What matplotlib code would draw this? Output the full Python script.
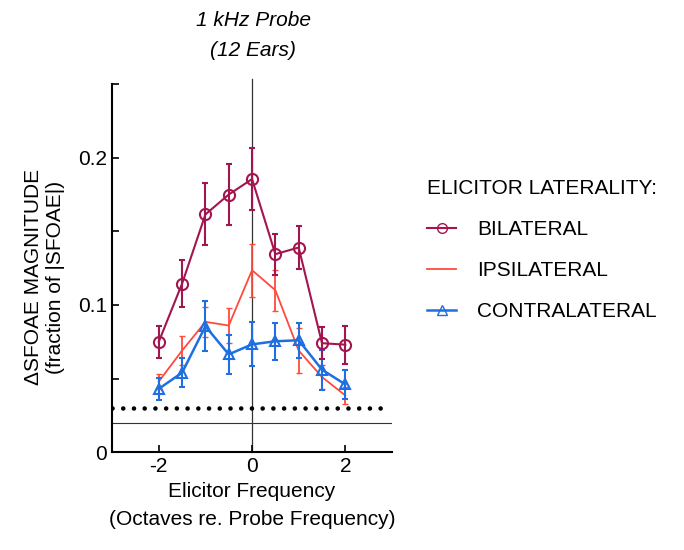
import matplotlib
matplotlib.use('Agg')
import matplotlib.pyplot as plt
from matplotlib.lines import Line2D

plt.rcParams['font.family'] = ['Liberation Sans', 'DejaVu Sans']

# elicitor frequency (octaves re. probe frequency)
freq = [-2, -1.5, -1, -0.5, 0, 0.5, 1, 1.5, 2]

bilateral = [0.075, 0.1145, 0.1615, 0.175, 0.1855, 0.1345, 0.139, 0.074, 0.073]
bilateral_err = [0.011, 0.016, 0.021, 0.021, 0.021, 0.014, 0.0145, 0.011, 0.013]

ipsilateral = [0.048, 0.069, 0.0885, 0.086, 0.1236, 0.110, 0.069, 0.051, 0.0385]
ipsilateral_err = [0.005, 0.010, 0.010, 0.012, 0.018, 0.014, 0.015, 0.008, 0.006]

contralateral = [0.043, 0.054, 0.0855, 0.0664, 0.0732, 0.0753, 0.076, 0.056, 0.046]
contralateral_err = [0.0075, 0.010, 0.017, 0.013, 0.015, 0.0125, 0.012, 0.0135, 0.0098]

noise_floor = 0.030
baseline = 0.020

c_bi = '#a3154e'
c_ip = '#ff4a3d'
c_co = '#1f6fe0'

fig = plt.figure(figsize=(6.84, 5.5), dpi=100)
ax = fig.add_axes([0.164, 0.178, 0.409, 0.669])

ax.axvline(0, ymin=0, ymax=1.015, color='#333333', lw=0.9, clip_on=False, zorder=1)
ax.axhline(baseline, color='#333333', lw=0.8, zorder=1)
ax.axhline(noise_floor, xmax=0.985, color='black', lw=3.3, linestyle=(0, (0.01, 2.33)),
           dash_capstyle='round', zorder=1)

ax.errorbar(freq, ipsilateral, yerr=ipsilateral_err, color=c_ip, lw=1.3,
            elinewidth=1.3, capsize=2, zorder=2)
ax.errorbar(freq, contralateral, yerr=contralateral_err, color=c_co, lw=1.8,
            marker='^', ms=7, mfc='none', mew=1.5, elinewidth=1.5, capsize=2, zorder=3)
ax.errorbar(freq, bilateral, yerr=bilateral_err, color=c_bi, lw=1.5,
            marker='o', ms=8, mfc='none', mew=1.5, elinewidth=1.5, capsize=2, zorder=4)

ax.set_xlim(-3, 3)
ax.set_ylim(0, 0.25)
ax.set_xticks([-2, 0, 2])
ax.set_xticklabels(['-2', '0', '2'])
ax.set_yticks([0, 0.1, 0.2])
ax.set_yticklabels(['0', '0.1', '0.2'])
ax.set_yticks([0.05, 0.15, 0.25], minor=True)
ax.tick_params(direction='in', labelsize=15, length=5, width=1.2)
ax.tick_params(which='minor', direction='in', length=5, width=1.2)
for s in ['top', 'right']:
    ax.spines[s].set_visible(False)
for s in ['left', 'bottom']:
    ax.spines[s].set_linewidth(1.5)

ax.set_xlabel('Elicitor Frequency\n(Octaves re. Probe Frequency)', fontsize=15,
              labelpad=4, linespacing=1.6)
ax.set_ylabel('\u0394SFOAE MAGNITUDE\n(fraction of |SFOAE|)', fontsize=15,
              linespacing=1.2)
ax.yaxis.set_label_coords(-0.17, 0.475)

fig.text(0.37, 0.963, '1 kHz Probe', style='italic', fontsize=15, ha='center', va='center')
fig.text(0.37, 0.908, '(12 Ears)', style='italic', fontsize=15, ha='center', va='center')

handles = [
    Line2D([], [], color=c_bi, marker='o', mfc='none', ms=7, lw=1.5),
    Line2D([], [], color=c_ip, lw=1.3),
    Line2D([], [], color=c_co, marker='^', mfc='none', ms=7, lw=1.8),
]
leg = fig.legend(handles, ['BILATERAL', 'IPSILATERAL', 'CONTRALATERAL'],
                 title='ELICITOR LATERALITY:', loc='upper left',
                 bbox_to_anchor=(0.6, 0.705), frameon=False, fontsize=15,
                 title_fontsize=15, handlelength=1.4, handletextpad=1.0,
                 labelspacing=1.05, borderpad=0.3)
leg._legend_box.align = 'left'
leg._legend_box.sep = 16

fig.savefig('out.png', dpi=100)
